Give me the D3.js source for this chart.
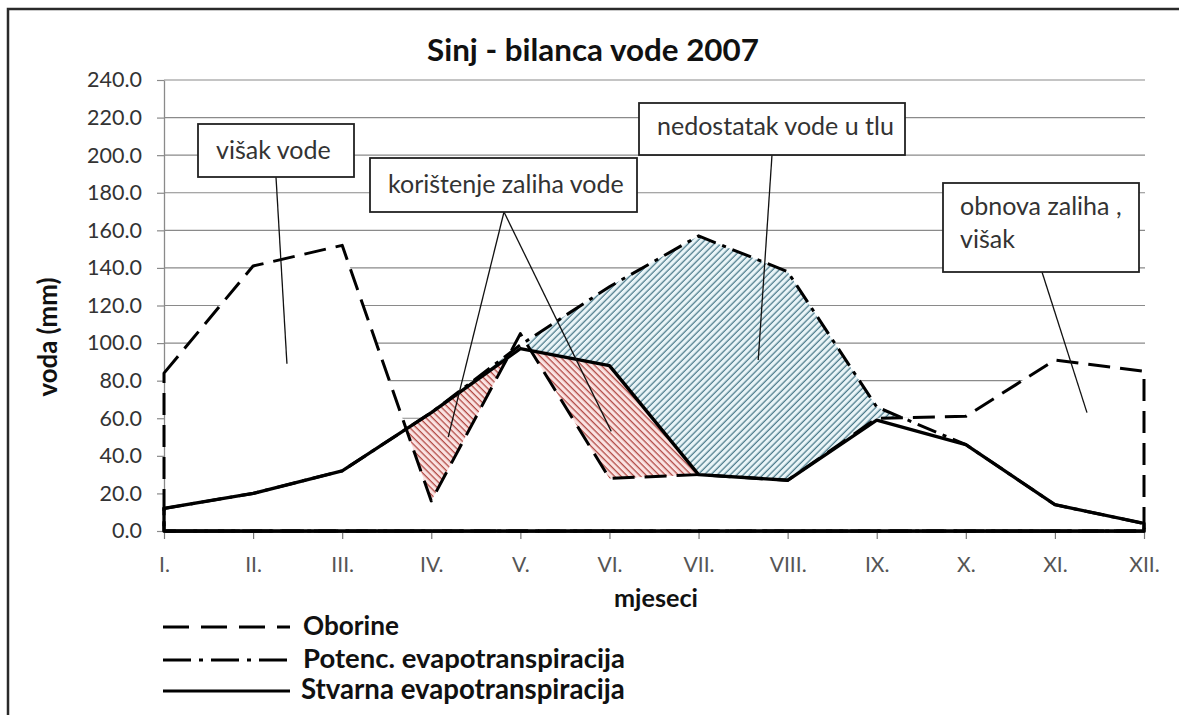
<!DOCTYPE html>
<html>
<head>
<meta charset="utf-8">
<script src="https://cdn.jsdelivr.net/npm/d3@7"></script>
<style>
  body { margin: 0; background: #fff; }
  svg { display: block; }
</style>
</head>
<body>
<svg id="chart" width="1179" height="715"></svg>
<script>
// Monthly water balance, Sinj 2007 (mm)
const months = ["I.", "II.", "III.", "IV.", "V.", "VI.", "VII.", "VIII.", "IX.", "X.", "XI.", "XII."];
const oborine   = [84, 141, 152, 16, 105, 28, 30, 27, 60, 61, 91, 85];
const potencET  = [12, 20, 32, 63, 99, 130, 157, 138, 66, 46, 14, 4];
const stvarnaET = [12, 20, 32, 63, 97, 88, 30, 27, 59, 46, 14, 4];
const yTickValues = [0, 20, 40, 60, 80, 100, 120, 140, 160, 180, 200, 220, 240];

const titleText = "Sinj - bilanca vode 2007";
const yTitle = "voda (mm)";
const xTitle = "mjeseci";
const legendNames = ["Oborine", "Potenc. evapotranspiracija", "Stvarna evapotranspiracija"];
const noteTexts = [["višak vode"], ["korištenje zaliha vode"], ["nedostatak vode u tlu"], ["obnova zaliha ,", "višak"]];

const FONT = "Lato, 'Open Sans', sans-serif";
const svg = d3.select("#chart");

const plot = { left: 164, right: 1144, top: 80, bottom: 531 };
const x = d3.scaleLinear().domain([0, months.length - 1]).range([plot.left, plot.right]);
const y = d3.scaleLinear().domain([0, 240]).range([plot.bottom, plot.top]);

// scale a text element's font size so it spans the given width
function fit(t, w) {
  const fs = +t.attr("font-size");
  const cur = t.node().getComputedTextLength();
  const nfs = fs * w / cur;
  t.attr("font-size", nfs);
  return nfs;
}

svg.append("rect").attr("width", 1179).attr("height", 715).attr("fill", "#fff");

// hatch fills
const defs = svg.append("defs");
function hatch(id, bg, fg, angle) {
  const s = 4.6;
  const p = defs.append("pattern").attr("id", id)
    .attr("patternUnits", "userSpaceOnUse")
    .attr("width", s).attr("height", s)
    .attr("patternTransform", `rotate(${angle})`);
  p.append("rect").attr("width", s).attr("height", s).attr("fill", bg);
  p.append("line").attr("x1", 1.2).attr("x2", 1.2).attr("y1", 0).attr("y2", s)
    .attr("stroke", fg).attr("stroke-width", 1.3);
}
hatch("hatchBlue", "#eaf5f8", "#4d7c8c", 45);
hatch("hatchRed", "#fae3e2", "#b24a45", -45);

// frame
svg.append("path").attr("d", "M8,715 L8,9 L1179,9")
  .attr("fill", "none").attr("stroke", "#2a2a2a").attr("stroke-width", 2.5);

// horizontal gridlines
svg.append("g").selectAll("line")
  .data(yTickValues.filter(v => v > 0)).join("line")
  .attr("x1", plot.left).attr("x2", plot.right + 1)
  .attr("y1", d => y(d)).attr("y2", d => y(d))
  .attr("stroke", "#8a8a8a").attr("stroke-width", 1.2);

// areas: potential ET (blue), actual ET (red), precipitation (white cover)
const area = d3.area().x((d, i) => x(i)).y0(y(0)).y1(d => y(d));
const fills = svg.append("g");
fills.append("path").attr("d", area(potencET)).attr("fill", "url(#hatchBlue)");
fills.append("path").attr("d", area(stvarnaET)).attr("fill", "url(#hatchRed)");
fills.append("path").attr("d", area(oborine)).attr("fill", "#fff");

// y axis
const yAxis = svg.append("g").attr("transform", `translate(${plot.left},0)`)
  .call(d3.axisLeft(y).tickValues(yTickValues).tickSize(7).tickSizeOuter(0)
    .tickPadding(15).tickFormat(d => d.toFixed(1)));
yAxis.select(".domain").attr("stroke", "#8a8a8a").attr("stroke-width", 1.3);
yAxis.selectAll(".tick line").attr("stroke", "#8a8a8a").attr("stroke-width", 1.2);
const yLabels = yAxis.selectAll(".tick text").attr("font-family", FONT)
  .attr("fill", "#333").attr("font-size", 18);
{
  const t = yLabels.filter(d => d === 240);
  const fs = fit(t, 55);
  yLabels.attr("font-size", fs);
}

// x axis
const xAxis = svg.append("g").attr("transform", `translate(0,${plot.bottom})`)
  .call(d3.axisBottom(x).tickValues(d3.range(months.length)).tickSize(8).tickSizeOuter(0)
    .tickFormat(i => months[i]));
xAxis.select(".domain").attr("stroke", "#111").attr("stroke-width", 2.5);
xAxis.selectAll(".tick line").attr("stroke", "#777").attr("stroke-width", 1.2);
const xLabels = xAxis.selectAll(".tick text").attr("font-family", FONT)
  .attr("fill", "#555").attr("font-size", 17).attr("y", 41).attr("dy", null);
{
  const t = xLabels.filter(i => i === 7);
  const fs = fit(t, 37);
  xLabels.attr("font-size", fs);
}

// series outlines
const dashOb = "22,10";
const dashPet = "20,7,4,7";
const lines = svg.append("g").attr("fill", "none").attr("stroke", "#000");
lines.append("path").attr("d", area(potencET)).attr("stroke-width", 3)
  .attr("stroke-dasharray", dashPet);
lines.append("path").attr("d", area(oborine)).attr("stroke-width", 3)
  .attr("stroke-dasharray", dashOb).attr("stroke-linejoin", "round");
lines.append("path").attr("d", area(stvarnaET)).attr("stroke-width", 3.3)
  .attr("stroke-linejoin", "round");

// title and axis titles
const title = svg.append("text").attr("x", 593).attr("y", 61).attr("text-anchor", "middle")
  .attr("font-family", FONT).attr("font-weight", "bold").attr("font-size", 30)
  .attr("fill", "#111").text(titleText);
fit(title, 332);

const yt = svg.append("text").attr("transform", "translate(57,337) rotate(-90)")
  .attr("text-anchor", "middle").attr("font-family", FONT).attr("font-weight", "bold")
  .attr("font-size", 20).attr("fill", "#111").text(yTitle);
fit(yt, 119);

const xt = svg.append("text").attr("x", 656).attr("y", 607).attr("text-anchor", "middle")
  .attr("font-family", FONT).attr("font-weight", "bold").attr("font-size", 20)
  .attr("fill", "#111").text(xTitle);
fit(xt, 84);

// legend
const legendRows = [
  { y: 627, dash: "26,12", textX: 303, w: 96 },
  { y: 660, dash: "28,8,4,8", textX: 303, w: 322 },
  { y: 691, dash: null, textX: 301, w: 324 }
];
const legend = svg.append("g");
legendRows.forEach((r, i) => {
  const l = legend.append("line").attr("x1", 163).attr("x2", 290).attr("y1", r.y).attr("y2", r.y)
    .attr("stroke", "#000").attr("stroke-width", 3.2);
  if (r.dash) l.attr("stroke-dasharray", r.dash);
  const t = legend.append("text").attr("x", r.textX).attr("y", r.y + 8)
    .attr("font-family", FONT).attr("font-weight", "bold").attr("font-size", 22)
    .attr("fill", "#111").text(legendNames[i]);
  fit(t, r.w);
});

// annotation boxes with leader lines pointing into the chart
const notes = [
  { box: [198, 124, 156, 53], textX: 216, base: [159], from: [276, 177], to: [[1.38, 89]] },
  { box: [370, 158, 267, 54], textX: 388, base: [193], from: [504, 212], to: [[3.19, 50], [5.02, 53]] },
  { box: [639, 103, 266, 52], textX: 657, base: [135], from: [772, 155], to: [[6.67, 91]] },
  { box: [943, 183, 196, 89], textX: 960, base: [215, 248], from: [1042, 272], to: [[10.36, 63]] }
];
const ann = svg.append("g");
notes.forEach(n => {
  n.to.forEach(([i, v]) => {
    ann.append("line").attr("x1", n.from[0]).attr("y1", n.from[1])
      .attr("x2", x(i)).attr("y2", y(v)).attr("stroke", "#111").attr("stroke-width", 1.3);
  });
});
notes.forEach(n => {
  const [bx, by, bw, bh] = n.box;
  ann.append("rect").attr("x", bx).attr("y", by).attr("width", bw).attr("height", bh)
    .attr("fill", "#fff").attr("stroke", "#222").attr("stroke-width", 1.8);
});
let noteSize = null;
const noteTextEls = [];
notes.forEach((n, k) => {
  noteTexts[k].forEach((line, j) => {
    const t = ann.append("text").attr("x", n.textX).attr("y", n.base[j])
      .attr("font-family", FONT).attr("font-size", 22).attr("fill", "#333").text(line);
    noteTextEls.push(t);
    if (k === 2) noteSize = fit(t, 237);
  });
});
noteTextEls.forEach(t => t.attr("font-size", noteSize));
</script>
</body>
</html>
